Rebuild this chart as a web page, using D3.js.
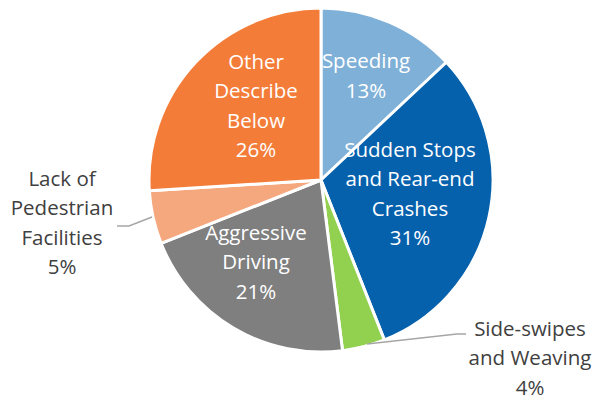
<!DOCTYPE html>
<html><head><meta charset="utf-8">
<script src="https://cdn.jsdelivr.net/npm/d3@7"></script>
<style>body{margin:0;background:#fff}</style>
</head><body>
<svg id="c" width="597" height="401"></svg>
<script>
const categories = ["Speeding", "Sudden Stops and Rear-end Crashes", "Side-swipes and Weaving", "Aggressive Driving", "Lack of Pedestrian Facilities", "Other Describe Below"];
const values = [13, 31, 4, 21, 5, 26];
const colors = ["#7FB0D8", "#0661AD", "#92D050", "#7F7F7F", "#F5A77D", "#F47C39"];
const labelLines = [["Speeding","13%"],["Sudden Stops","and Rear-end","Crashes","31%"],["Side-swipes","and Weaving","4%"],["Aggressive","Driving","21%"],["Lack of","Pedestrian","Facilities","5%"],["Other","Describe","Below","26%"]];

const svg = d3.select("#c");
const cx = 321, cy = 180, R = 172;
const g = svg.append("g").attr("transform", `translate(${cx},${cy})`);
const pie = d3.pie().sort(null).value(d => d)(values);
const arc = d3.arc().innerRadius(0).outerRadius(R);
g.selectAll("path").data(pie).enter().append("path")
  .attr("d", arc).attr("fill", (d,i) => colors[i])
  .attr("stroke", "#fff").attr("stroke-width", 3).attr("stroke-linejoin", "round");

const inside = [true, true, false, true, false, true];
const pos = [[45,-104],[89,14],[209,178],[-65,82],[-259,43],[-65,-74]];
const lh = 29.5;
const font = "'Open Sans', sans-serif";
pie.forEach((d,i) => {
  const lines = labelLines[i];
  const [x,y] = pos[i];
  const y0 = y - (lines.length-1)*lh/2;
  const t = g.append("text").attr("text-anchor","middle")
    .attr("font-family", font).attr("font-size", 20.5)
    .attr("fill", inside[i] ? "#fff" : "#404040");
  lines.forEach((l,j) => t.append("tspan").attr("x", x).attr("y", y0 + j*lh).attr("dy","0.35em").text(l));
});
const leader = [
  {i:2, pts:[[367-cx,344-cy],[457-cx,334-cy],[466-cx,334-cy]]},
  {i:4, pts:[[152-cx,217-cy],[129-cx,226-cy],[117-cx,226-cy]]}
];
leader.forEach(l => g.append("path").attr("d", d3.line()(l.pts))
  .attr("fill","none").attr("stroke","#A6A6A6").attr("stroke-width",1.5));
</script>
</body></html>
